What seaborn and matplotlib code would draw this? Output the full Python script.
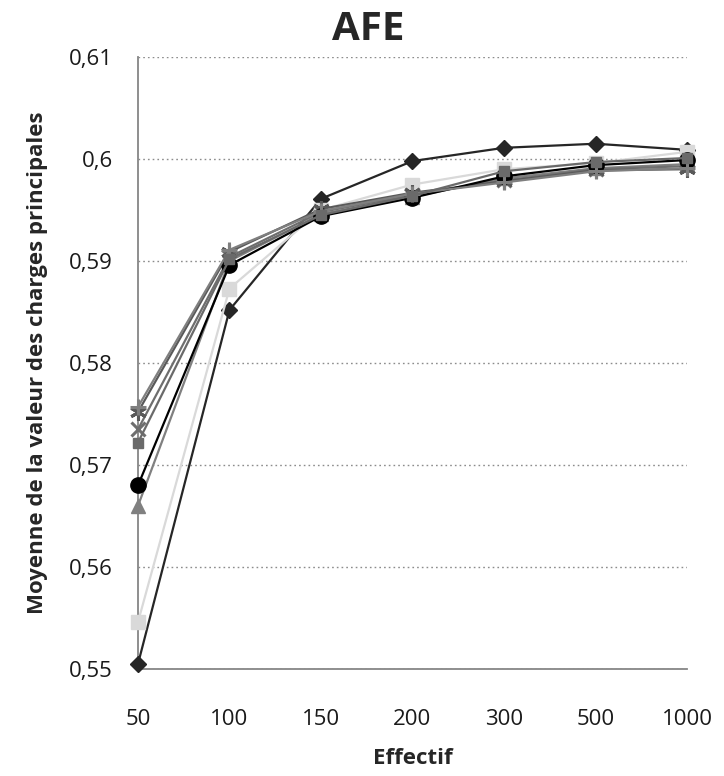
import numpy as np
import pandas as pd
import matplotlib
matplotlib.use("Agg")
import matplotlib.pyplot as plt
from matplotlib import font_manager
from matplotlib.ticker import FuncFormatter, FixedLocator
import seaborn as sns

categories = ["50", "100", "150", "200", "300", "500", "1000"]

s1_diamond = [0.5505, 0.5852, 0.5961, 0.5998, 0.6011, 0.6015, 0.6009]
s2_square = [0.5546, 0.5873, 0.5950, 0.5975, 0.5990, 0.5996, 0.6007]
s3_triangle = [0.5660, 0.5900, 0.5946, 0.5963, 0.5981, 0.5991, 0.5995]
s4_x = [0.5735, 0.5904, 0.5948, 0.5965, 0.5979, 0.5990, 0.5993]
s5_star = [0.5752, 0.5909, 0.5951, 0.5967, 0.5978, 0.5989, 0.5990]
s6_circle = [0.5680, 0.5896, 0.5944, 0.5962, 0.5983, 0.5994, 0.5999]
s7_plus = [0.5757, 0.5911, 0.5949, 0.5966, 0.5977, 0.5988, 0.5991]
s8_square = [0.5722, 0.5902, 0.5945, 0.5964, 0.5988, 0.5997, 0.6001]

series_names = ["S1", "S2", "S3", "S4", "S5", "S6", "S7", "S8"]
series_values = [s1_diamond, s2_square, s3_triangle, s4_x, s5_star, s6_circle, s7_plus, s8_square]

title = "AFE"
xlabel = "Effectif"
ylabel = "Moyenne de la valeur des charges principales"

# styles
styles = {
    "S1": dict(color="#262626", marker="D", ms=8),
    "S2": dict(color="#d9d9d9", marker="s", ms=10),
    "S3": dict(color="#808080", marker="^", ms=10),
    "S4": dict(color="#6e6e6e", marker="x", ms=10),
    "S5": dict(color="#595959", marker=(6, 2, 0), ms=12),
    "S6": dict(color="#000000", marker="o", ms=11),
    "S7": dict(color="#7f7f7f", marker="+", ms=11),
    "S8": dict(color="#6a6a6a", marker="s", ms=7),
}

sns.set_theme(style="white")
avail = {f.name for f in font_manager.fontManager.ttflist}
fam = [f for f in ["Liberation Sans Narrow", "Open Sans", "DejaVu Sans"] if f in avail]
plt.rcParams["font.family"] = fam

rows = []
for name, vals in zip(series_names, series_values):
    for i, (c, v) in enumerate(zip(categories, vals)):
        rows.append({"serie": name, "pos": i, "Effectif": c, "val": v})
df = pd.DataFrame(rows)

fig = plt.figure(figsize=(7.24, 7.76), dpi=100)
ax = fig.add_axes([0.1906, 0.1379, 0.9489 - 0.1906, 0.9265 - 0.1379])

for name in series_names:
    st = styles[name]
    sub = df[df["serie"] == name]
    mk = st["marker"]
    filled = mk not in ("x", "+") and not isinstance(mk, tuple)
    sns.lineplot(data=sub, x="pos", y="val", ax=ax, color=st["color"], lw=1.6,
                 marker=mk, markersize=st["ms"],
                 markerfacecolor=st["color"] if filled else "none",
                 markeredgecolor=st["color"], markeredgewidth=1.0 if filled else 2.2,
                 legend=False, zorder=3, clip_on=False)

ax.set_xlim(0, len(categories) - 1)
ax.set_ylim(0.55, 0.61)
ax.xaxis.set_major_locator(FixedLocator(range(len(categories))))
ax.set_xticklabels(categories)
ax.yaxis.set_major_locator(FixedLocator(np.round(np.arange(0.55, 0.6101, 0.01), 2)))


def fmt(v, p):
    s = ("%.2f" % v).rstrip("0").rstrip(".")
    return s.replace(".", ",")


ax.yaxis.set_major_formatter(FuncFormatter(fmt))
ax.grid(axis="y", color="#8c8c8c", linestyle=(0, (1.2, 2.2)), linewidth=1.0)
ax.grid(axis="x", visible=False)
for s in ["top", "right"]:
    ax.spines[s].set_visible(False)
for s in ["left", "bottom"]:
    ax.spines[s].set_color("#868686")
    ax.spines[s].set_linewidth(1.3)
ax.tick_params(axis="both", length=0, labelsize=16, colors="#1a1a1a")
ax.tick_params(axis="y", pad=18)
ax.tick_params(axis="x", pad=29)

ax.set_xlabel(xlabel, fontsize=16, fontweight="bold", labelpad=13)
ax.set_ylabel(ylabel, fontsize=16, fontweight="bold", labelpad=15)
fig.text(0.508, 0.962, title, ha="center", va="center", fontsize=29, fontweight="bold")

fig.savefig("out.png", dpi=100)
